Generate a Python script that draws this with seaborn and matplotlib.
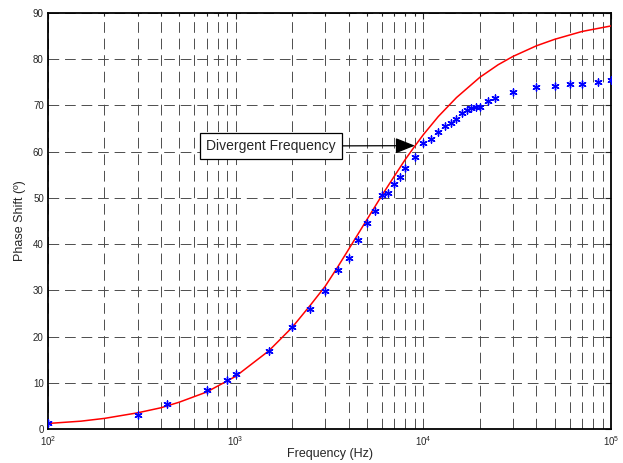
import matplotlib
matplotlib.use("Agg")
import matplotlib.pyplot as plt
import seaborn as sns
import pandas as pd
from matplotlib.ticker import LogLocator, FixedLocator, NullFormatter

# Measured data (blue asterisks)
meas_freq = [100, 300, 430, 700, 900, 1000, 1500, 2000, 2500, 3000, 3500, 4000,
             4500, 5000, 5500, 6000, 6500, 7000, 7500, 8000, 9000, 10000, 11000,
             12000, 13000, 14000, 15000, 16000, 17000, 18000, 19000, 20000,
             22000, 24000, 30000, 40000, 50000, 60000, 70000, 85000, 100000]
meas_phase = [1.2, 3.1, 5.4, 8.4, 10.5, 11.8, 16.9, 22.0, 26.0, 29.9, 34.4, 37.1,
              40.9, 44.5, 47.2, 50.6, 51.0, 52.9, 54.5, 56.5, 58.9, 61.8, 62.7,
              64.3, 65.5, 66.1, 67.0, 68.3, 69.0, 69.4, 69.6, 69.7,
              70.9, 71.6, 72.8, 74.0, 74.3, 74.6, 74.7, 75.1, 75.4]

# Model curve (red line)
model_freq = [100, 150, 200, 300, 400, 500, 700, 1000, 1500, 2000, 2500, 3000,
              3500, 4000, 5000, 6000, 7000, 8000, 9000, 10000, 12000, 15000,
              20000, 25000, 30000, 40000, 50000, 70000, 100000]
model_phase = [1.2, 1.7, 2.3, 3.5, 4.6, 5.8, 8.0, 11.4, 16.9, 22.0, 26.8, 30.9,
               35.1, 38.9, 45.3, 50.5, 54.7, 58.3, 61.2, 63.7, 67.6, 71.7,
               76.1, 78.8, 80.6, 82.9, 84.3, 86.0, 87.2]

y_ticks = [0, 10, 20, 30, 40, 50, 60, 70, 80, 90]

sns.set_style("white")
plt.rcParams["font.family"] = ["Liberation Sans", "DejaVu Sans"]
plt.rcParams["mathtext.fontset"] = "custom"
plt.rcParams["mathtext.rm"] = "Liberation Sans"
plt.rcParams["mathtext.it"] = "Liberation Sans"

fig = plt.figure(figsize=(6.23, 4.63), dpi=100)
ax = fig.add_axes([0.077, 0.0734, 0.904, 0.8986])

model_df = pd.DataFrame({"f": model_freq, "p": model_phase})
meas_df = pd.DataFrame({"f": meas_freq, "p": meas_phase})

sns.lineplot(data=model_df, x="f", y="p", ax=ax, color="#ff0000", linewidth=1.1,
             zorder=3)
sns.scatterplot(data=meas_df, x="f", y="p", ax=ax, marker=(6, 2, 0), s=26,
                color="#0000ff", edgecolor="#0000ff", linewidth=1.0, zorder=4)

ax.set_xscale("log")
ax.set_xlim(100, 100000)
ax.set_ylim(0, 90)
ax.yaxis.set_major_locator(FixedLocator(y_ticks))
ax.xaxis.set_major_locator(LogLocator(base=10))
ax.xaxis.set_minor_locator(LogLocator(base=10, subs=range(2, 10)))
ax.xaxis.set_minor_formatter(NullFormatter())

ax.grid(True, which="major", axis="both", color="0.3", linestyle=(0, (11, 6)),
        linewidth=0.7)
ax.grid(True, which="minor", axis="x", color="0.3", linestyle=(0, (11, 6)),
        linewidth=0.7)

ax.tick_params(which="both", direction="in", top=True, right=True,
               labelsize=7, length=4, width=0.8)
ax.tick_params(axis="y", pad=3)
ax.tick_params(axis="x", pad=4)
ax.tick_params(which="minor", length=2)
for s in ax.spines.values():
    s.set_visible(True)
    s.set_color("black")
    s.set_linewidth(1.3)

ax.set_xlabel("Frequency (Hz)", fontsize=9, labelpad=0)
ax.set_ylabel("Phase Shift (º)", fontsize=9, labelpad=5)

ax.annotate("Divergent Frequency", xy=(9000, 61.3), xytext=(1537, 61.2),
            ha="center", va="center", fontsize=10,
            bbox=dict(boxstyle="square,pad=0.45", fc="white", ec="black", lw=0.9),
            arrowprops=dict(arrowstyle="-|>,head_length=0.8,head_width=0.32",
                            color="black", lw=0.9, shrinkA=0, shrinkB=0,
                            mutation_scale=15),
            zorder=5)

fig.savefig("out.png", dpi=100)
